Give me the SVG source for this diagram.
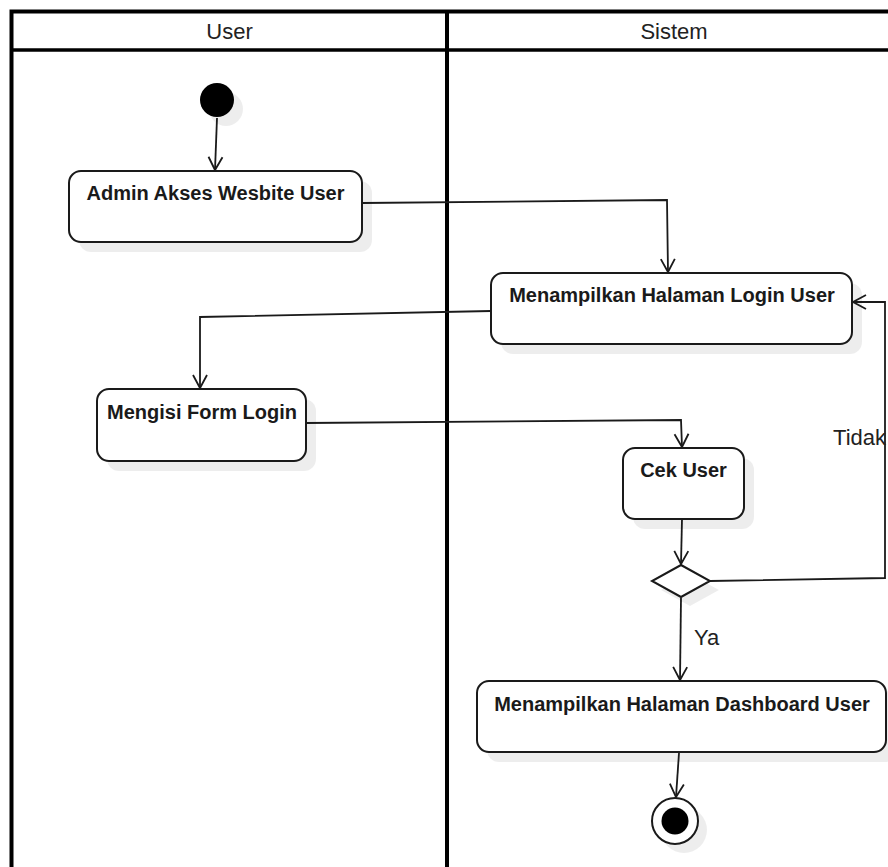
<svg xmlns="http://www.w3.org/2000/svg" width="888" height="867" viewBox="0 0 888 867">
  <defs>
    <marker id="arr" viewBox="-15 -9 17 18" refX="0" refY="0" markerWidth="17" markerHeight="18" markerUnits="userSpaceOnUse" orient="auto">
      <path d="M-13,-7 L0,0 L-13,7" fill="none" stroke="#1a1a1a" stroke-width="1.8"/>
    </marker>
  </defs>
  <style>
    .lane { fill: none; stroke: #000; }
    .hdr { font-family: "Liberation Sans", Arial, sans-serif; font-size: 22px; fill: #222; text-anchor: middle; }
    .lbl { font-family: "Liberation Sans", Arial, sans-serif; font-size: 22px; fill: #222; }
    .node { fill: #fff; stroke: #1a1a1a; stroke-width: 2; }
    .shadow { fill: #000; opacity: 0.07; }
    .ntext { font-family: "Liberation Sans", Arial, sans-serif; font-size: 20px; font-weight: bold; fill: #1a1a1a; text-anchor: middle; }
    .edge { fill: none; stroke: #1a1a1a; stroke-width: 1.8; marker-end: url(#arr); }
  </style>
  <rect width="888" height="867" fill="#fff"/>

  <g id="swimlanes">
    <rect class="lane" x="11.5" y="11.5" width="890" height="870" stroke-width="4"/>
    <line class="lane" x1="11" y1="50" x2="888" y2="50" stroke-width="3.5"/>
    <line class="lane" x1="447" y1="10" x2="447" y2="867" stroke-width="4"/>
    <text class="hdr" x="229.5" y="39">User</text>
    <text class="hdr" x="674" y="39">Sistem</text>
  </g>

  <g id="start">
    <circle class="shadow" cx="226" cy="109" r="17"/>
    <circle cx="217" cy="100" r="17" fill="#000"/>
  </g>

  <g id="node-admin-akses">
    <rect class="shadow" x="79" y="181" width="293" height="71" rx="12"/>
    <rect class="node" x="69" y="171" width="293" height="71" rx="12"/>
    <text class="ntext" x="215.5" y="200">Admin Akses Wesbite User</text>
  </g>

  <g id="node-login">
    <rect class="shadow" x="501" y="283" width="361" height="71" rx="12"/>
    <rect class="node" x="491" y="273" width="361" height="71" rx="12"/>
    <text class="ntext" x="672" y="302">Menampilkan Halaman Login User</text>
  </g>

  <g id="node-form">
    <rect class="shadow" x="107" y="399" width="209" height="72" rx="12"/>
    <rect class="node" x="97" y="389" width="209" height="72" rx="12"/>
    <text class="ntext" x="202" y="419">Mengisi Form Login</text>
  </g>

  <g id="node-cek">
    <rect class="shadow" x="633" y="458" width="121" height="71" rx="12"/>
    <rect class="node" x="623" y="448" width="121" height="71" rx="12"/>
    <text class="ntext" x="683.5" y="477">Cek User</text>
  </g>

  <g id="decision">
    <polygon class="shadow" points="690,574 719,590 690,606 661,590"/>
    <polygon class="node" points="681,565 710,581 681,597 652,581"/>
  </g>

  <g id="node-dashboard">
    <rect class="shadow" x="487" y="691" width="410" height="71" rx="12"/>
    <rect class="node" x="477" y="681" width="409" height="71" rx="12"/>
    <text class="ntext" x="682" y="711">Menampilkan Halaman Dashboard User</text>
  </g>

  <g id="end">
    <circle class="shadow" cx="684" cy="830" r="23"/>
    <circle cx="675" cy="821" r="23" fill="#fff" stroke="#1a1a1a" stroke-width="2"/>
    <circle cx="675" cy="821" r="13.5" fill="#000"/>
  </g>

  <g id="connectors">
    <path class="edge" d="M217,118 L215,170"/>
    <path class="edge" d="M362,203 L667,200 L668,272"/>
    <path class="edge" d="M491,311 L200,317 L200,388"/>
    <path class="edge" d="M306,423 L681,420 L682,447"/>
    <path class="edge" d="M682,519 L681,564"/>
    <path class="edge" d="M681,598 L680,680"/>
    <path class="edge" d="M710,581 L885,578 L885,302 L853,302"/>
    <path class="edge" d="M679,753 L676,797"/>
    <text class="lbl" x="694" y="645">Ya</text>
    <text class="lbl" x="886" y="445" text-anchor="end">Tidak</text>
  </g>
</svg>
